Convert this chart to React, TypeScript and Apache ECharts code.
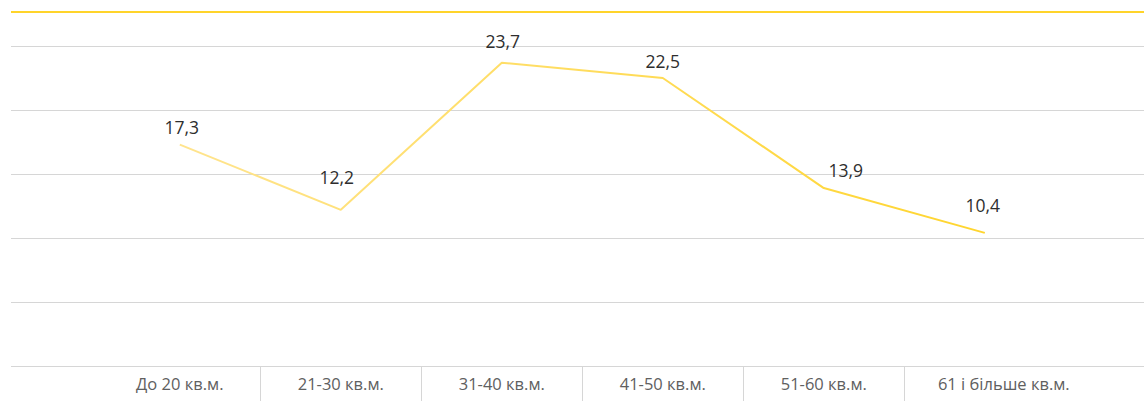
import React, { useEffect, useRef } from "react";
import * as echarts from "echarts";

const categories = [
  "До 20 кв.м.",
  "21-30 кв.м.",
  "31-40 кв.м.",
  "41-50 кв.м.",
  "51-60 кв.м.",
  "61 і більше кв.м.",
];
const values = [17.3, 12.2, 23.7, 22.5, 13.9, 10.4];
const yMin = 0;
const yMax = 25;
const yInterval = 5;

// label placement (style only)
const labelOffsets: [number, number][] = [
  [2, -18],
  [-4, -33],
  [1, -22],
  [0, -17.5],
  [22, -17.7],
  [-2, -28],
];

const FONT = "'Open Sans', 'Noto Sans', sans-serif";

export default function App() {
  const ref = useRef<HTMLDivElement>(null);
  useEffect(() => {
    if (!ref.current) return;
    const chart = echarts.init(ref.current, undefined, { renderer: "svg" });
    const lineTop = 46;
    const plotH = 320;
    const bandLeft = 99.3;
    const bandW = 966;
    chart.setOption({
      animation: false,
      backgroundColor: "#ffffff",
      grid: [
        { left: 11, width: 1133, top: lineTop, height: plotH },
        { left: bandLeft, width: bandW, top: lineTop, height: plotH },
        { left: bandLeft, width: bandW, top: lineTop + plotH, height: 35 },
      ],
      xAxis: [
        { type: "category", gridIndex: 0, data: categories, show: false },
        {
          type: "category",
          gridIndex: 1,
          data: categories,
          boundaryGap: true,
          axisLine: { show: false },
          axisTick: { show: false },
          splitLine: { show: false },
          axisLabel: {
            show: true,
            margin: 9,
            color: "#606060",
            fontSize: 16.5,
            fontFamily: FONT,
            interval: 0,
            formatter: (v: string, i: number) =>
              i === categories.length - 1 ? `{s|${v}}` : v,
            rich: {
              s: {
                padding: [0, 0, 0, 38],
                color: "#606060",
                fontSize: 16.5,
                fontFamily: FONT,
              },
            },
          },
        },
        {
          type: "category",
          gridIndex: 2,
          data: categories,
          boundaryGap: true,
          axisLine: { show: false },
          axisTick: { show: false },
          axisLabel: { show: false },
          splitLine: {
            show: true,
            showMinLine: false,
            showMaxLine: false,
            interval: 0,
            lineStyle: { color: "#d6d6d6", width: 1 },
          },
        },
      ],
      yAxis: [
        {
          type: "value",
          gridIndex: 0,
          min: yMin,
          max: yMax,
          interval: yInterval,
          axisLine: { show: false },
          axisTick: { show: false },
          axisLabel: { show: false },
          splitLine: { show: true, lineStyle: { color: "#d6d6d6", width: 1 } },
        },
        {
          type: "value",
          gridIndex: 1,
          min: yMin,
          max: yMax,
          interval: yInterval,
          show: false,
          splitLine: { show: false },
        },
        {
          type: "value",
          gridIndex: 2,
          show: false,
          splitLine: { show: false },
        },
      ],
      graphic: [
        {
          type: "line",
          shape: { x1: 11, y1: 12, x2: 1144, y2: 12 },
          style: { stroke: "#ffd42a", lineWidth: 2 },
          silent: true,
        },
      ],
      series: [
        {
          type: "line",
          xAxisIndex: 1,
          yAxisIndex: 1,
          data: values.map((v, i) => ({
            value: v,
            label: { offset: labelOffsets[i] },
          })),
          symbol: "circle",
          symbolSize: 1,
          showSymbol: true,
          itemStyle: { color: "rgba(0,0,0,0)" },
          lineStyle: {
            width: 2,
            color: new echarts.graphic.LinearGradient(0, 0, 1, 0, [
              { offset: 0, color: "#ffe48e" },
              { offset: 1, color: "#ffd52e" },
            ]),
          },
          label: {
            show: true,
            position: "inside",
            color: "#2e2e2e",
            fontSize: 17.5,
            fontFamily: FONT,
            formatter: (p: any) => String(p.value).replace(".", ","),
          },
        },
      ],
    });
    return () => chart.dispose();
  }, []);
  return (
    <div
      ref={ref}
      style={{ position: "fixed", left: 0, top: 0, width: 1144, height: 413 }}
    />
  );
}
